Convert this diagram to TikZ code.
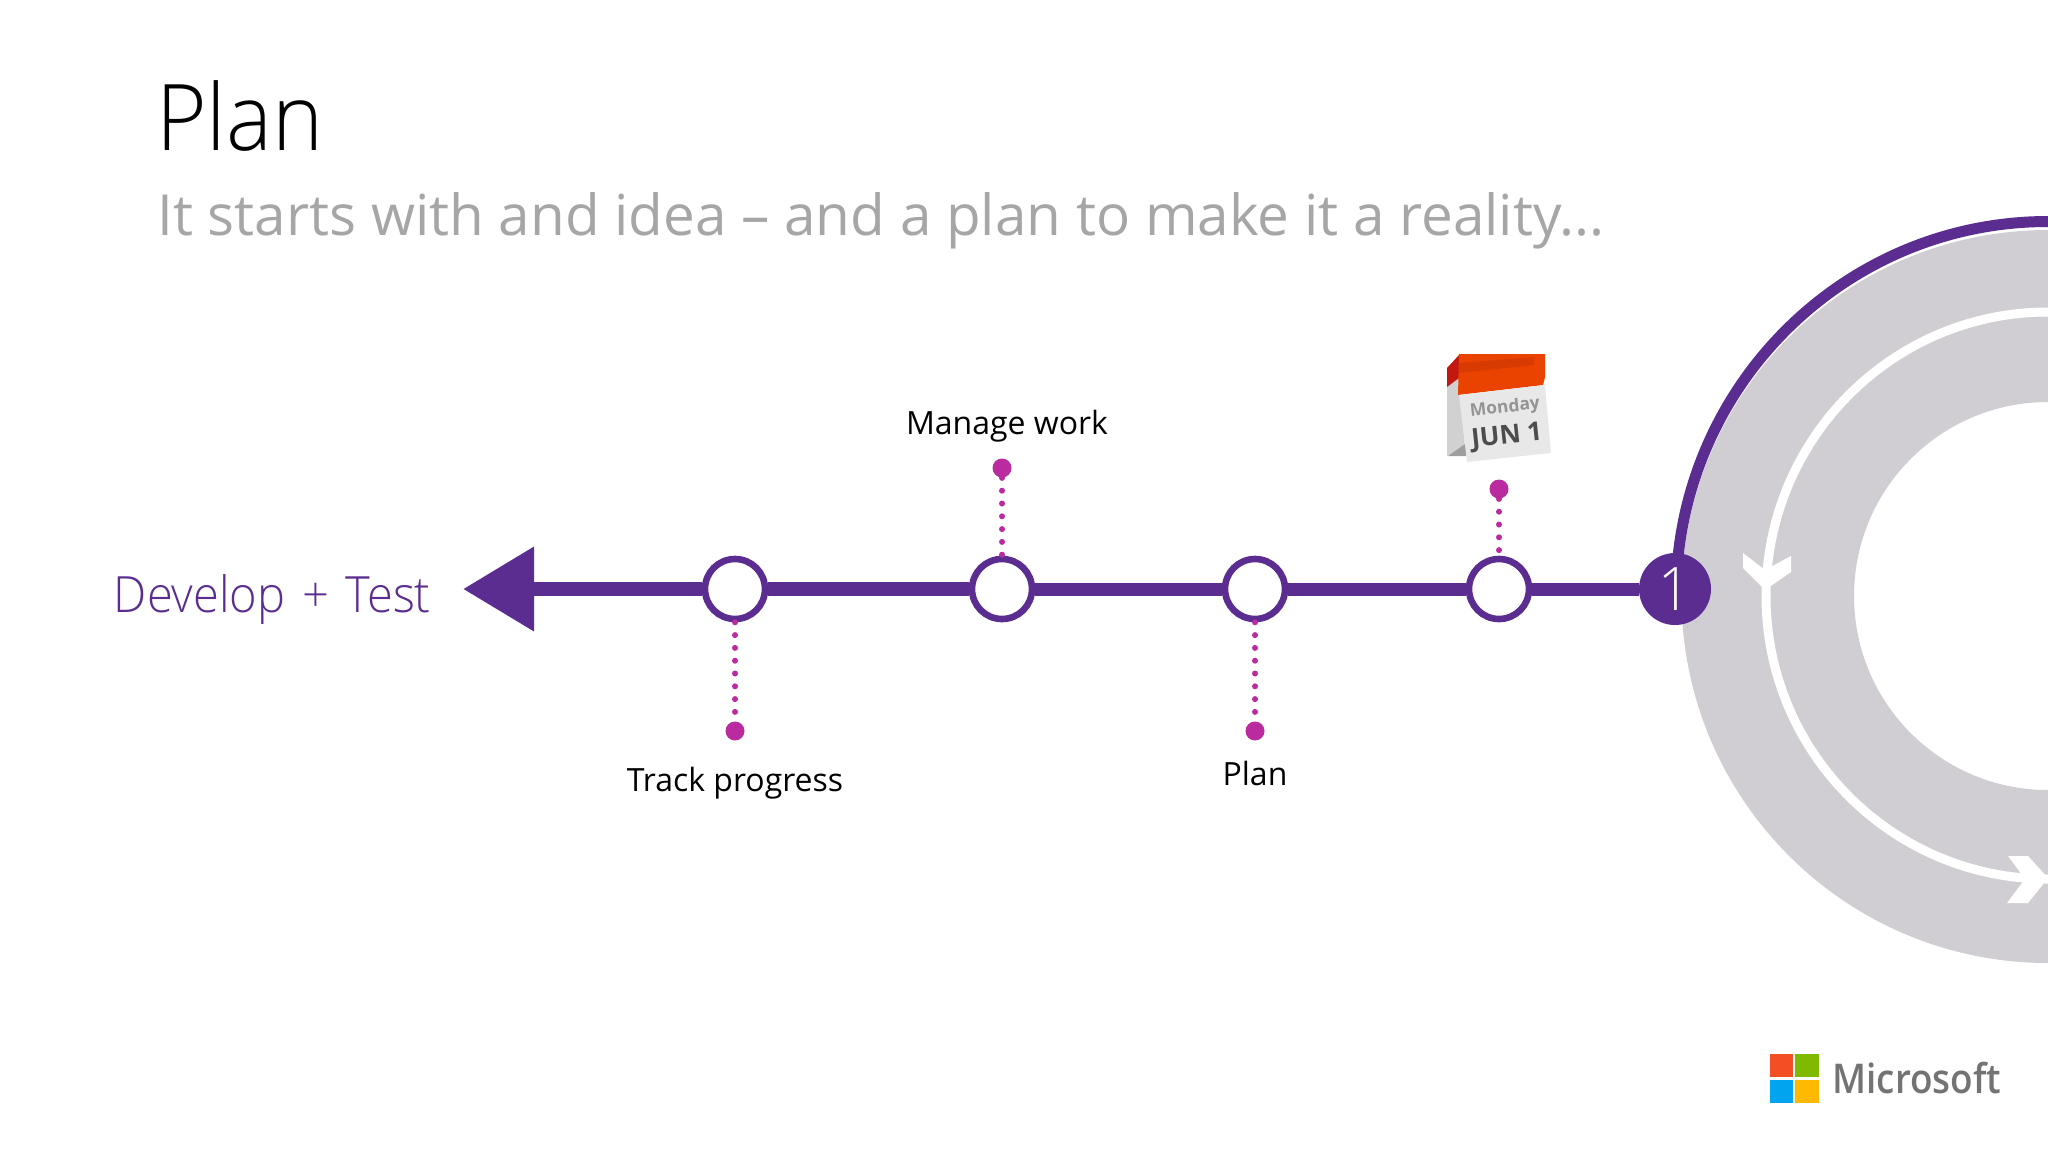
\documentclass[tikz,border=0pt]{standalone}
\usepackage{fontspec}
\setmainfont{Open Sans}
\newfontfamily\lightfont[FakeStretch=0.94]{Open Sans Light}
\newfontfamily\logofont[FakeStretch=0.9]{Open Sans Semibold}
\usetikzlibrary{positioning, arrows.meta}
\definecolor{planpurple}{HTML}{5C2D91}
\definecolor{planpink}{HTML}{B92B9F}
\definecolor{ringgray}{HTML}{D0CED2}
\definecolor{calred}{HTML}{C2180F}
\definecolor{calorange}{HTML}{EA4300}
\definecolor{calband}{HTML}{D83B01}
\definecolor{msred}{HTML}{F25022}
\definecolor{msgreen}{HTML}{7FBA00}
\definecolor{msblue}{HTML}{00A4EF}
\definecolor{msyellow}{HTML}{FFB900}

\begin{document}
\begin{tikzpicture}[x=0.5pt,y=-0.5pt,
  spine/.style={draw=planpurple, line width=6.5pt},
  stopnode/.style={circle, draw=planpurple, line width=3.3pt, fill=white, minimum size=30pt, inner sep=0pt},
  enddot/.style={circle, fill=planpink, minimum size=9.5pt, inner sep=0pt},
  dotline/.style={draw=planpink, line width=3pt, line cap=round, dash pattern=on 0pt off 6.4pt},
  steplabel/.style={font=\fontsize{16}{18}\selectfont, text=black, inner sep=0pt},
  ringarrow/.style={draw=white, line width=4.5pt}]
\useasboundingbox (0,0) rectangle (2048,1152);
\node (title) [anchor=base west, inner sep=0pt, font=\lightfont\fontsize{46}{50}\selectfont] at (156,150) {Plan};
\node (subtitle) [anchor=base west, inner sep=0pt, text=black!35, font=\fontsize{28.3}{32}\selectfont] at (157,235) {It starts with and idea – and a plan to make it a reality...};
% ring
\fill[ringgray] (2048,230) arc[start angle=270, end angle=90, radius=366.5] -- (2048,790) arc[start angle=90, end angle=270, radius=194] -- cycle;
\draw[planpurple, line width=5.5pt] (2048,221.5) arc[start angle=270, end angle=180, x radius=372, y radius=374.5];
\draw[ringarrow] (2048,312) arc[start angle=270, end angle=180, x radius=282, y radius=284] arc[start angle=180, end angle=90, x radius=282, y radius=283];
\fill[white] (1743,553) -- (1765,570) -- (1791,556) -- (1791,572) -- (1765,590) -- (1743,568) -- cycle;
\fill[white] (2008,856) -- (2028,856) -- (2048,878) -- (2028,903) -- (2007,903) -- (2025,879) -- cycle;
% timeline
\node (one) [circle, fill=planpurple, minimum size=36pt, inner sep=0pt, text=white, font=\lightfont\fontsize{30}{32}\selectfont] at (1675,589) {1};
\node (date) [stopnode] at (1499,589) {};
\node (plan) [stopnode] at (1255,589) {};
\node (manage) [stopnode] at (1002,589) {};
\node (track) [stopnode] at (735,589) {};
\coordinate (tip) at (463,589);
\draw[spine] (one)--(date);
\draw[spine] (date)--(plan);
\draw[spine] (plan)--(manage);
\draw[spine, line width=7pt] (manage)--(track);
\draw[spine, line width=7pt, -{Triangle[length=35.5pt, width=40.5pt]}] (track)--(tip);
\node (dev) [anchor=base east, inner sep=0pt, text=planpurple, font=\lightfont\fontsize{25}{28}\selectfont] at (431,612) {Develop\hspace{2.3pt} + \hspace{2.3pt}Test};
% dots
\node (datedot) [enddot] at (1499,489) {};
\node (managedot) [enddot] at (1002,468) {};
\node (plandot) [enddot] at (1255,731) {};
\node (trackdot) [enddot] at (735,731) {};
\draw[dotline] (datedot)--(date);
\draw[dotline] (managedot)--(manage);
\draw[dotline] (plan)--(plandot);
\draw[dotline] (track)--(trackdot);
\node (managetext) [steplabel, above=8pt of managedot, xshift=2.5pt] {Manage work};
\node (plantext) [steplabel, below=10pt of plandot] {Plan};
\node (tracktext) [steplabel, below=13pt of trackdot] {Track progress};
% calendar
\fill[black!18] (1447,387) -- (1459,378) -- (1465,448) -- (1447,456) -- cycle;
\fill[black!38] (1448,456) -- (1465,444) -- (1468,456) -- cycle;
\fill[calred] (1447,368) -- (1459,355) -- (1459,378) -- (1447,387) -- cycle;
\fill[calorange] (1459,354) -- (1545,354) -- (1545,377) -- (1543,385) -- (1458,395) -- cycle;
\fill[calband] (1459,363) -- (1534,357) -- (1534,365) -- (1459,373) -- cycle;
\fill[black!9] (1459,395) -- (1545,385) -- (1551,453) -- (1467,462) -- cycle;
\node (day) [rotate=6, inner sep=0pt, text=black!42, font=\bfseries\fontsize{8.7}{10}\selectfont] at (1505,408) {Monday};
\node (jun) [rotate=6, inner sep=0pt, text=black!70, font=\bfseries\fontsize{13}{15}\selectfont] at (1507,437) {JUN 1};
% logo
\fill[msred] (1770,1054) rectangle (1793,1077);
\fill[msgreen] (1795,1054) rectangle (1819,1077);
\fill[msblue] (1770,1080) rectangle (1793,1103);
\fill[msyellow] (1795,1080) rectangle (1819,1103);
\node (ms) [anchor=base west, inner sep=0pt, text=black!55, font=\logofont\fontsize{20.5}{22}\selectfont] at (1832,1093) {Microsoft};
\end{tikzpicture}
\end{document}
